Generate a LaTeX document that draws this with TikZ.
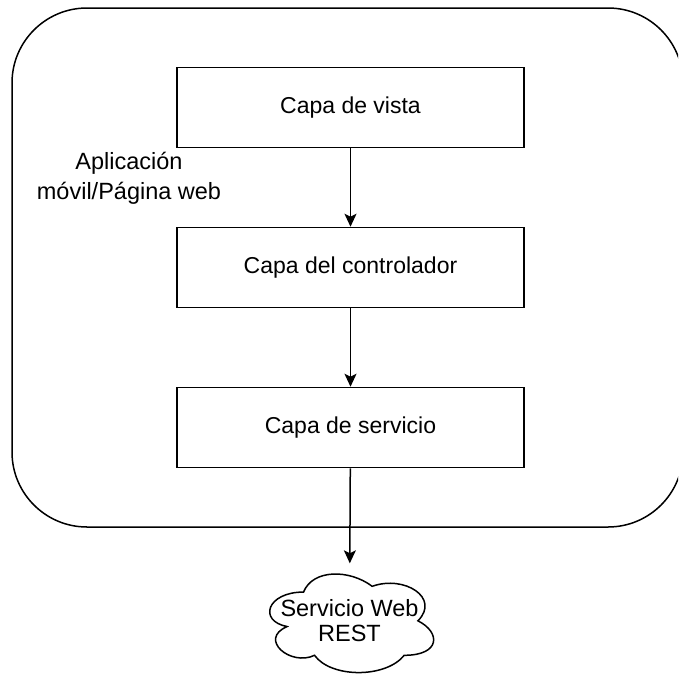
\documentclass[tikz,border=0pt]{standalone}
\usepackage{fontspec}
\setmainfont{Liberation Sans}
\usetikzlibrary{arrows.meta}
\tikzset{
  layerbox/.style={draw, line width=1.5pt, minimum width=347pt, minimum height=80pt, inner sep=0pt, font=\fontsize{23}{28}\selectfont},
  arr/.style={line width=1.5pt, -{Stealth[length=13pt,width=12pt,inset=3pt]}},
  lbl/.style={align=center, inner sep=0pt, font=\fontsize{23.5}{30}\selectfont},
}
\begin{document}
\begin{tikzpicture}[x=1pt,y=-1pt]
\useasboundingbox (0,0) rectangle (678,680);
\clip (0,0) rectangle (678,680);
\fill[white] (0,0) rectangle (678,680);
\node[draw, line width=1.5pt, rounded corners=75pt, minimum width=671pt, minimum height=519pt, inner sep=0pt] (app) at (347.5,267.5) {};
\node[lbl] (applbl) at (129,178) {Aplicación\\móvil/Página web};
\node[layerbox] (v) at (350.5,107.5) {Capa de vista};
\node[layerbox] (c) at (350.5,267.5) {Capa del controlador};
\node[layerbox] (s) at (350.5,427.5) {Capa de servicio};
\node[lbl, font=\fontsize{23.5}{25}\selectfont, minimum width=183pt, minimum height=115pt] (ws) at (349.5,621) {Servicio Web\\REST};
\begin{scope}[shift={(ws.north west)}, x=183pt, y=-115pt]
\draw[line width=1.5pt] (0.25,0.25) .. controls (0.05,0.25) and (0,0.5) .. (0.16,0.55)
  .. controls (0,0.66) and (0.18,0.9) .. (0.31,0.8)
  .. controls (0.4,1) and (0.7,1) .. (0.8,0.8)
  .. controls (1,0.8) and (1,0.6) .. (0.875,0.5)
  .. controls (1,0.3) and (0.8,0.1) .. (0.625,0.2)
  .. controls (0.5,0.05) and (0.3,0.05) .. (0.25,0.25) -- cycle;
\end{scope}
\draw[arr] (v) -- (c);
\draw[arr] (c) -- (s);
\draw[arr] (s) -- (ws);
\end{tikzpicture}
\end{document}
